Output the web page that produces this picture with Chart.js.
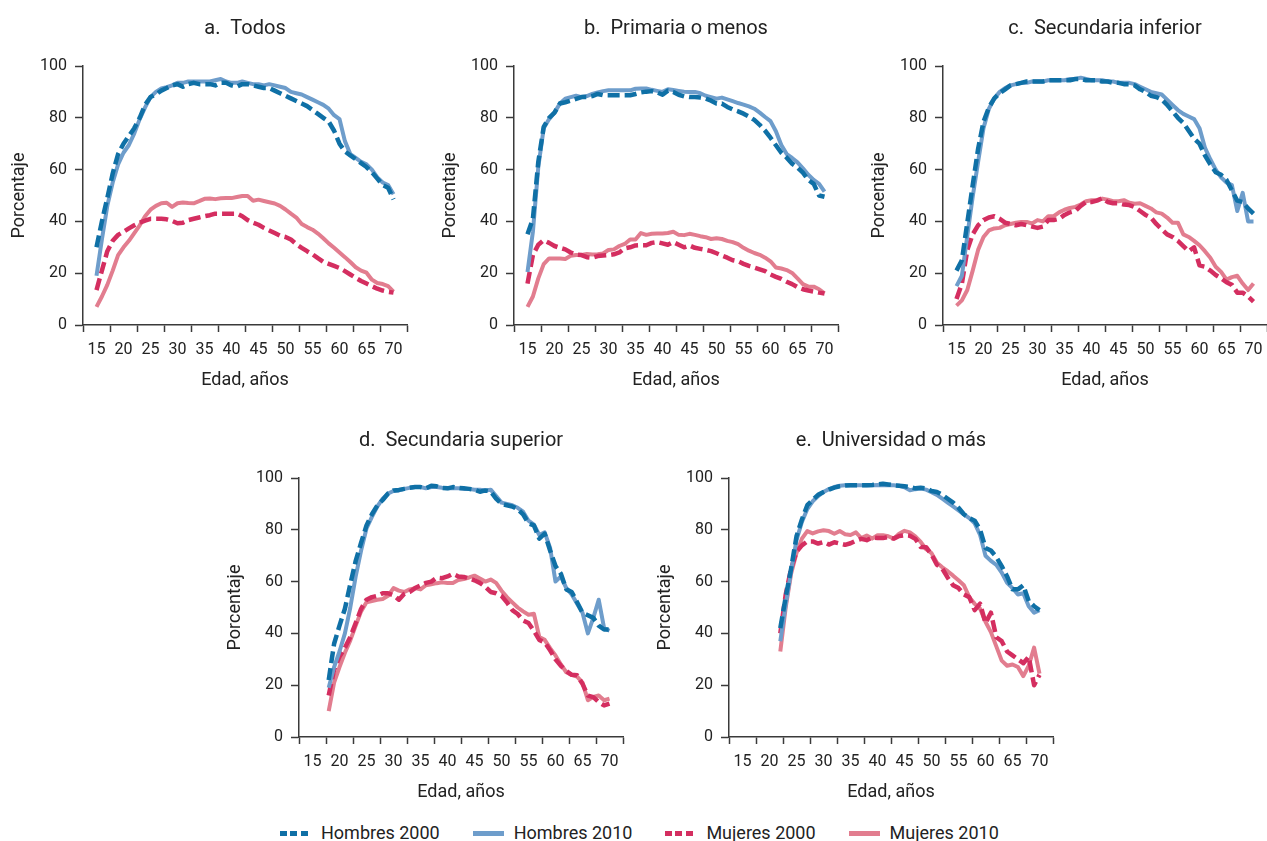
<!DOCTYPE html>
<html lang="es">
<head>
<meta charset="utf-8">
<title>Participación laboral por edad</title>
<script src="https://cdn.jsdelivr.net/npm/chart.js@4.4.1/dist/chart.umd.min.js"></script>
<style>
  html, body {
    margin: 0;
    padding: 0;
    background: #fff;
    overflow: hidden;
  }
  #lienzo {
    position: relative;
    width: 1267px;
    height: 841px;
    overflow: hidden;
    font-family: Roboto, "Noto Sans", sans-serif;
    color: #222;
  }
  #lienzo canvas {
    position: absolute;
  }
  .leyenda {
    position: absolute;
    left: 280px;
    top: 823px;
    display: flex;
    gap: 33px;
    font-size: 18px;
    line-height: 20px;
    white-space: nowrap;
  }
  .leyenda .item {
    display: flex;
    align-items: center;
  }
  .leyenda .item i {
    display: inline-block;
    width: 31px;
    height: 5px;
    margin-right: 10px;
  }
  .leyenda .trazos {
    background: repeating-linear-gradient(90deg, var(--c) 0 7px, transparent 7px 10.5px);
  }
  .leyenda .continua {
    background: var(--c);
  }
</style>
</head>
<body>
<div id="lienzo">
  <canvas id="panelA" width="490" height="400" style="left:0px;top:0px"></canvas>
  <canvas id="panelB" width="490" height="400" style="left:431px;top:0px"></canvas>
  <canvas id="panelC" width="490" height="400" style="left:860px;top:0px"></canvas>
  <canvas id="panelD" width="490" height="400" style="left:216px;top:412px"></canvas>
  <canvas id="panelE" width="490" height="400" style="left:646px;top:412px"></canvas>

  <div class="leyenda">
    <span class="item"><i class="trazos" style="--c:#0f70a6"></i>Hombres 2000</span>
    <span class="item"><i class="continua" style="--c:#6e9dcb"></i>Hombres 2010</span>
    <span class="item"><i class="trazos" style="--c:#d42e60"></i>Mujeres 2000</span>
    <span class="item"><i class="continua" style="--c:#e27d8f"></i>Mujeres 2010</span>
  </div>
</div>

<script>
// --- ages (x axis) ---
const edades15 = [15, 16, 17, 18, 19, 20, 21, 22, 23, 24, 25, 26, 27, 28, 29, 30, 31, 32, 33, 34,
  35, 36, 37, 38, 39, 40, 41, 42, 43, 44, 45, 46, 47, 48, 49, 50, 51, 52, 53, 54,
  55, 56, 57, 58, 59, 60, 61, 62, 63, 64, 65, 66, 67, 68, 69, 70];
const edades18 = edades15.slice(3);
const edades22 = edades15.slice(7);

// labelled ages and the tick marks that sit between them
const etiquetasEdad = [15, 20, 25, 30, 35, 40, 45, 50, 55, 60, 65, 70];
const cortesEdad = [12.5, 17.5, 22.5, 27.5, 32.5, 37.5, 42.5, 47.5, 52.5, 57.5, 62.5, 67.5, 72.5];

// --- a. Todos (15-70) ---
const todosH2000 = [30, 40, 49, 58.5, 66, 70, 73, 76, 80, 85,
  88, 89, 90.5, 91.5, 92.5, 93, 92, 93, 93.5, 93,
  93, 93, 92.5, 93.5, 93.5, 92.5, 92, 93, 93, 92.5,
  92, 91.5, 91.5, 90.5, 89.5, 88.5, 87.5, 86.5, 85.5, 84.5,
  83, 81.5, 80, 78.5, 75, 70, 67, 65.5, 64, 62.5,
  61, 59, 56.5, 54, 53, 48.5];
const todosH2010 = [19, 33, 46, 55, 62, 66.5, 69.5, 74, 79.5, 84,
  88, 90, 91.3, 91.8, 92.5, 93.5, 93.5, 94, 94, 94,
  94, 94, 94.5, 95, 94, 93.5, 93.5, 94, 93.5, 93,
  93, 92.5, 93, 92.5, 92, 91.5, 90, 89.5, 89, 88,
  87, 86, 85, 83.5, 81, 79.5, 71, 66, 64.5, 63,
  62, 60, 57, 55, 54, 50.5];
const todosM2000 = [13.5, 21, 28.5, 32.5, 34.8, 36, 37.3, 38.5, 39.5, 40.3,
  41, 41, 41, 40.8, 40.2, 39.3, 39.5, 40.5, 41, 41.5,
  42, 42.4, 43, 43, 43, 43, 43, 42, 40.5, 39.5,
  38.7, 37.5, 36.5, 35.5, 34.5, 34, 33, 31.2, 29.8, 28.5,
  27.3, 25.8, 24.4, 23.6, 22.8, 22, 20.8, 19.5, 18.2, 17,
  16, 15, 14, 13.3, 12.8, 12.5];
const todosM2010 = [7, 11, 15.5, 21, 27, 30, 32.5, 35.5, 38.5, 42,
  44.5, 46, 47, 47.2, 45.6, 47, 47.3, 47.1, 47, 47.8,
  48.7, 48.8, 48.6, 48.9, 49, 49, 49.4, 49.8, 49.8, 48,
  48.4, 47.9, 47.4, 46.9, 46, 44.6, 43, 41.5, 39, 37.8,
  36.8, 35.3, 33.5, 31.5, 29.8, 28, 26.2, 24.3, 22.3, 21,
  20.2, 17.5, 16.2, 15.8, 15, 12.9];

// --- b. Primaria o menos (15-70) ---
const primariaH2000 = [35, 41, 63, 76.5, 80, 82, 85.5, 86, 86.6, 87.3,
  88, 88, 88.4, 89.2, 88.7, 88.7, 88.7, 88.7, 88.7, 88.7,
  89.2, 89.8, 90.1, 90.3, 89.8, 88.9, 90.5, 90, 88.9, 88.3,
  88, 88, 87.8, 87.4, 86.6, 85.5, 85.5, 84.2, 83.2, 82.5,
  81.6, 80.5, 79.2, 77.3, 75, 72.3, 69.4, 66.5, 64.6, 62.3,
  60.8, 58.8, 56, 54.5, 50, 49.5];
const primariaH2010 = [20.5, 36, 61, 76, 79.5, 82, 85.5, 87.4, 88, 88.5,
  88, 88.4, 89.2, 89.8, 90.3, 90.6, 90.6, 90.6, 90.6, 90.6,
  91.2, 91.3, 91.3, 90.8, 90.4, 90, 91, 90.7, 90.4, 90.1,
  90, 90, 89.5, 88.5, 88, 87.4, 87.8, 87.1, 86.4, 85.7,
  85.1, 84.4, 83.5, 82, 80.3, 78.7, 74.8, 69.5, 66, 64.5,
  62.8, 60.5, 58, 56, 54.5, 51.5];
const primariaM2000 = [16, 27, 31, 32.7, 31.7, 30.5, 29.8, 29.2, 28, 27.2,
  27, 26.2, 26, 26.6, 26.8, 27, 27.3, 28, 29.6, 30,
  30.7, 30.8, 30.8, 31.7, 32, 31.5, 31, 32, 31, 30,
  30.7, 29.8, 29.4, 29, 28.5, 27.7, 26.8, 26, 25, 24.6,
  23.6, 22.8, 22.2, 21.5, 20.8, 19.5, 18.6, 17.8, 16.7, 15.8,
  14.6, 13.8, 13.3, 12.9, 12.5, 12.2];
const primariaM2010 = [7, 11, 18, 23.5, 25.7, 25.7, 25.7, 25.5, 26.7, 27,
  27, 27.4, 27.2, 27.3, 27.6, 29, 29.2, 30.5, 31.3, 33,
  33, 35.5, 34.8, 35.2, 35.3, 35.3, 35.5, 36, 34.8, 34.7,
  35.2, 34.8, 34.3, 33.9, 33.2, 33.5, 33.2, 32.5, 32, 31.2,
  29.8, 28.7, 27.8, 27.1, 26, 24.6, 22.2, 21.8, 21.2, 20.1,
  18, 15.8, 14.8, 14.8, 13.8, 12.2];

// --- c. Secundaria inferior (15-70) ---
const secInfH2000 = [21, 25, 39.5, 54, 68, 78.5, 84, 87.5, 89.5, 91,
  92.5, 93, 93.5, 94, 94, 94, 94, 94.5, 94.5, 94.5,
  94.5, 94.5, 95, 95, 94.5, 94.5, 94.5, 94, 94, 93.5,
  93.5, 93, 93, 92.5, 91, 90, 88.5, 88, 87, 85,
  82.5, 80, 78, 75, 72, 70, 65.5, 62, 59, 58,
  56, 52, 48, 47.5, 45, 43];
const secInfH2010 = [15, 19, 34.5, 49.5, 63, 76, 83.5, 87.5, 90, 91.5,
  92.5, 93, 93.5, 93.5, 94, 94, 94, 94.5, 94.5, 94.5,
  94.5, 95, 95, 95.5, 95, 94.5, 94.5, 94.5, 94, 94,
  93.5, 93.5, 93.5, 93, 92, 91, 90, 89.5, 89, 87,
  85, 83, 81.5, 80.5, 79.5, 76, 68.5, 64, 60, 57,
  55, 54, 44, 51, 40, 40];
const secInfM2000 = [10, 16, 29, 35, 38.5, 40.5, 41.5, 42, 41, 39.5,
  39, 38.5, 39, 38.5, 38, 37.5, 38, 40.5, 40.5, 41,
  42.5, 43.5, 44, 46, 47.5, 47.5, 48, 49, 47.5, 47,
  47, 46.5, 46.3, 45.5, 44, 42.5, 41.5, 39, 37, 35,
  34, 32.5, 30.5, 28.5, 30, 23, 22.5, 21, 19.3, 18,
  16.5, 15.5, 12.5, 12.5, 11, 9];
const secInfM2010 = [7.5, 9.5, 13.5, 21, 29, 34, 36.5, 37.3, 37.5, 38.5,
  39, 39.5, 39.8, 39.8, 39.2, 40.5, 40, 42, 42, 43.5,
  44.5, 45.2, 45.6, 46.5, 47.8, 48.2, 48.3, 48.8, 48.4, 47.8,
  47.8, 48.2, 47.2, 46.8, 47, 46, 45, 43.5, 43, 41.5,
  39.5, 39.5, 35, 34, 32.5, 30.8, 28.5, 26, 22.5, 20.5,
  17.5, 18.5, 19, 16, 13.5, 16];

// --- d. Secundaria superior (18-70) ---
const secSupH2000 = [22, 36, 43, 49.5, 59, 68, 75, 81.7, 86, 89.4,
  91.5, 94, 95.2, 95.4, 95.8, 96.2, 96.5, 96.5, 96, 97,
  96.8, 96.2, 96, 96.5, 96.2, 96, 95.8, 95.5, 94.7, 95.2,
  94.8, 92, 90, 89.5, 89, 88, 86, 82.5, 81.7, 76.6,
  78.5, 72, 66, 63, 57, 56, 52, 48, 47, 46,
  43, 41.5, 41.5];
const secSupH2010 = [19, 27, 33, 40, 50, 62, 72, 80.5, 85, 89,
  92, 94, 95, 95.2, 95.8, 96.2, 96.5, 96.5, 96, 96.5,
  96.5, 96.2, 96, 96, 96, 95.8, 95.8, 95.5, 95.5, 95.2,
  95.5, 93, 90.5, 90, 89.5, 88.5, 87, 83.5, 82, 78,
  79, 73, 60, 62, 57.5, 55, 51.5, 48, 40, 46,
  53, 42, 41];
const secSupM2000 = [16, 26, 31, 34.5, 38.6, 44, 49.5, 53, 54, 54.5,
  55.5, 55.5, 54.7, 53, 55.3, 56, 57.5, 58.5, 59.5, 60,
  61.5, 61.3, 62, 63, 62, 61.8, 61.2, 60.5, 59.5, 58,
  56, 55.5, 54.5, 52, 49, 47.5, 45, 44, 41, 37.5,
  36.5, 33.5, 30, 27.5, 25.5, 24, 23.8, 20.5, 16, 15.4,
  13.5, 12.2, 12.9];
const secSupM2010 = [10, 21, 27, 32.5, 37.3, 43, 48.5, 52, 52.5, 53,
  53.3, 54.5, 57.5, 56.5, 56, 57, 57.5, 57, 58.6, 59,
  59.4, 59.7, 59.5, 59.5, 60.6, 61, 61.6, 62.3, 61.2, 60,
  60.8, 59.5, 56.5, 54, 52, 50, 48.5, 47.2, 47.6, 38.6,
  37.5, 34.3, 31.5, 28, 25, 24, 23.3, 21, 14.2, 15.5,
  16, 14.2, 14.8];

// --- e. Universidad o más (22-70) ---
const univH2000 = [42, 54, 65, 77.5, 84, 89.5, 91.5, 93.5, 94.6,
  95.5, 96.3, 96.8, 97.1, 97.2, 97.2, 97.2, 97.2, 97.3, 97.5,
  97.8, 97.5, 97.2, 97, 96.8, 96.5, 96, 96.2, 96, 95,
  94.6, 93.5, 92, 90.5, 88.5, 86, 84.5, 83.5, 80, 73,
  72, 69.5, 66, 62, 57, 57, 58.6, 52.5, 50.5, 49];
const univH2010 = [37, 51, 64, 76, 83, 88, 91, 93, 94.6,
  95.7, 96.5, 97, 97.2, 97.2, 97.2, 97.2, 97.2, 97.2, 97.3,
  97.2, 97.2, 97.2, 97, 96.4, 95.3, 95.7, 95.9, 95.5, 94.5,
  93.5, 92, 90.5, 89, 87.5, 86, 84.5, 82.5, 78, 70,
  68, 66.5, 63.5, 59.5, 57.5, 55, 55.5, 50.5, 48, 49];
const univM2000 = [40, 55, 65, 71.5, 74, 75.5, 75.5, 74.7, 75.3,
  74.3, 75.2, 74.7, 74.2, 74.8, 75.8, 76.5, 76, 77, 76.8,
  76.8, 77.2, 76.6, 77.6, 77.9, 77.7, 76.5, 73.4, 73.3, 70.5,
  66.5, 65, 61.5, 58.6, 57.5, 55, 54, 49, 51.5, 44,
  48, 38.5, 37, 33, 31.5, 30, 28.5, 31, 20, 24];
const univM2010 = [33, 50, 63, 71, 76.6, 79.5, 78.6, 79.4, 79.8,
  79.5, 78.5, 79.5, 78.3, 78, 79, 76.8, 77.8, 76.6, 77.9,
  77.9, 77.5, 76.6, 78.5, 79.6, 79, 77.5, 75.3, 72.5, 71,
  67.3, 65.5, 64, 62.3, 60.5, 58.6, 54, 51.4, 49.5, 44.5,
  40.5, 35, 29.5, 27.5, 28, 27, 23.5, 27.5, 34.5, 24.5];

const AZUL_OSCURO = '#0f70a6';
const AZUL_CLARO = '#6e9dcb';
const CARMESI = '#d42e60';
const ROSA = '#e27d8f';
const TEXTO = '#222';
const EJE = '#3a3a3a';

Chart.defaults.font.family = 'Roboto, "Noto Sans", sans-serif';
Chart.defaults.color = TEXTO;

const marcasX = [...cortesEdad, ...etiquetasEdad].sort((a, b) => a - b);

function serie(nombre, valores, color, trazos) {
  return {
    label: nombre,
    data: valores,
    borderColor: color,
    backgroundColor: color,
    borderWidth: trazos ? 4.5 : 4,
    borderDash: trazos ? [12, 5] : [],
    borderCapStyle: 'butt',
    borderJoinStyle: 'round',
    pointRadius: 0,
    tension: 0,
    fill: false,
  };
}

function crearPanel(id, titulo, edades, h2000, h2010, m2000, m2010) {
  return new Chart(document.getElementById(id), {
    type: 'line',
    data: {
      labels: edades,
      datasets: [
        serie('Hombres 2000', h2000, AZUL_OSCURO, true),
        serie('Hombres 2010', h2010, AZUL_CLARO, false),
        serie('Mujeres 2000', m2000, CARMESI, true),
        serie('Mujeres 2010', m2010, ROSA, false),
      ],
    },
    options: {
      responsive: false,
      animation: false,
      events: [],
      plugins: {
        legend: { display: false },
        tooltip: { enabled: false },
        title: {
          display: true,
          text: titulo,
          color: TEXTO,
          font: { size: 20, weight: 'normal' },
          padding: { top: 17, bottom: 25 },
        },
      },
      scales: {
        x: {
          type: 'linear',
          min: 12.5,
          max: 72.5,
          afterBuildTicks: (escala) => {
            escala.ticks = marcasX.map((v) => ({ value: v }));
          },
          afterFit: (escala) => {
            escala.height = 75;
          },
          border: { display: true, color: EJE, width: 1.5 },
          grid: {
            drawOnChartArea: false,
            drawTicks: true,
            tickLength: 7,
            tickWidth: 1.5,
            // tick marks only between the labelled ages
            tickColor: (ctx) => (ctx.tick && ctx.tick.value % 5 === 0 ? 'rgba(0,0,0,0)' : EJE),
          },
          ticks: {
            autoSkip: false,
            maxRotation: 0,
            padding: 8,
            color: TEXTO,
            font: { size: 16 },
            callback: (v) => (etiquetasEdad.includes(v) ? String(v) : ''),
          },
          title: {
            display: true,
            text: 'Edad, años',
            color: TEXTO,
            font: { size: 18 },
            padding: { top: 0, bottom: 9 },
          },
        },
        y: {
          min: 0,
          max: 100,
          afterFit: (escala) => {
            escala.width = 83;
          },
          border: { display: true, color: EJE, width: 1.5 },
          grid: {
            drawOnChartArea: false,
            drawTicks: true,
            tickLength: 8,
            tickWidth: 1.5,
            tickColor: EJE,
          },
          ticks: {
            stepSize: 20,
            padding: 8,
            color: TEXTO,
            font: { size: 16 },
          },
          title: {
            display: true,
            text: 'Porcentaje',
            color: TEXTO,
            font: { size: 18 },
            padding: { top: 9, bottom: 0 },
          },
        },
        // empty right-hand spacer, same width as the y axis, so the title centres on the plot
        margen: {
          type: 'linear',
          position: 'right',
          display: true,
          min: 0,
          max: 100,
          afterFit: (escala) => {
            escala.width = 83;
          },
          border: { display: false },
          grid: { display: false, drawTicks: false },
          ticks: { display: false },
        },
      },
    },
  });
}

crearPanel('panelA', 'a.  Todos', edades15, todosH2000, todosH2010, todosM2000, todosM2010);
crearPanel('panelB', 'b.  Primaria o menos', edades15, primariaH2000, primariaH2010, primariaM2000, primariaM2010);
crearPanel('panelC', 'c.  Secundaria inferior', edades15, secInfH2000, secInfH2010, secInfM2000, secInfM2010);
crearPanel('panelD', 'd.  Secundaria superior', edades18, secSupH2000, secSupH2010, secSupM2000, secSupM2010);
crearPanel('panelE', 'e.  Universidad o más', edades22, univH2000, univH2010, univM2000, univM2010);
</script>
</body>
</html>
